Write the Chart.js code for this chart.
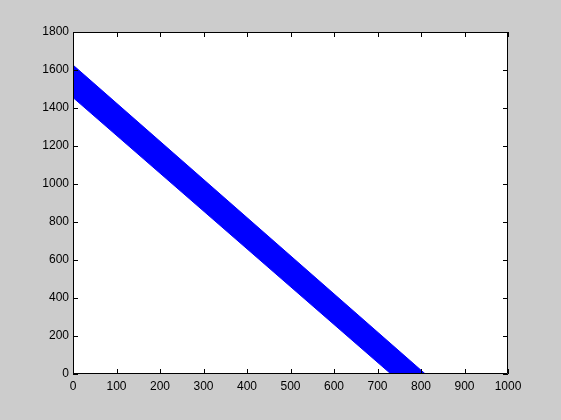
<!DOCTYPE html>
<html>
<head>
<meta charset="utf-8">
<script src="https://cdn.jsdelivr.net/npm/chart.js@4"></script>
<style>
  html, body { margin: 0; padding: 0; background: #cccccc; }
  #wrap { width: 561px; height: 420px; }
</style>
</head>
<body>
<div id="wrap"><canvas id="myChart" width="561" height="420"></canvas></div>
<script>
// edges of the blue band
const upperEdge = [
  { x: 0, y: 1626 },
  { x: 810, y: 0 },
];
const lowerEdge = [
  { x: 0, y: 1455 },
  { x: 731, y: 0 },
  { x: 810, y: 0 },
];

const xTicks = [0, 100, 200, 300, 400, 500, 600, 700, 800, 900, 1000];
const yTicks = [0, 200, 400, 600, 800, 1000, 1200, 1400, 1600, 1800];

// matlab style frame with ticks pointing inwards on all four sides
const boxTicks = {
  id: "boxTicks",
  afterDraw(chart) {
    const ctx = chart.ctx;
    const area = chart.chartArea;
    const xs = chart.scales.x;
    const ys = chart.scales.y;
    const len = 5;

    ctx.save();
    ctx.strokeStyle = "#000000";
    ctx.lineWidth = 1;
    ctx.beginPath();
    ctx.rect(area.left + 0.5, area.top + 0.5, area.right - area.left - 1, area.bottom - area.top - 1);

    xTicks.forEach(function (v) {
      var px = Math.round(xs.getPixelForValue(v)) + 0.5;
      ctx.moveTo(px, area.bottom);
      ctx.lineTo(px, area.bottom - len);
      ctx.moveTo(px, area.top);
      ctx.lineTo(px, area.top + len);
    });
    yTicks.forEach(function (v) {
      var py = Math.round(ys.getPixelForValue(v)) + 0.5;
      ctx.moveTo(area.left, py);
      ctx.lineTo(area.left + len, py);
      ctx.moveTo(area.right, py);
      ctx.lineTo(area.right - len, py);
    });
    ctx.stroke();
    ctx.restore();
  },
};

new Chart(document.getElementById("myChart"), {
  type: "line",
  data: {
    datasets: [
      {
        data: upperEdge,
        borderColor: "#0000ff",
        backgroundColor: "#0000ff",
        borderWidth: 1,
        pointRadius: 0,
        fill: "+1",
      },
      {
        data: lowerEdge,
        borderColor: "#0000ff",
        backgroundColor: "#0000ff",
        borderWidth: 1,
        pointRadius: 0,
        fill: false,
      },
    ],
  },
  options: {
    responsive: false,
    animation: false,
    layout: { padding: { top: 32, right: 53, left: 0, bottom: 0 } },
    plugins: {
      legend: { display: false },
      tooltip: { enabled: false },
    },
    scales: {
      x: {
        type: "linear",
        min: 0,
        max: 1000,
        afterBuildTicks: function (scale) {
          scale.ticks = xTicks.map((v) => ({ value: v }));
        },
        afterFit: function (scale) {
          scale.height = 46;
        },
        grid: { display: false, drawTicks: false },
        border: { display: false },
        ticks: {
          color: "#000000",
          padding: 5,
          maxRotation: 0,
          autoSkip: false,
          font: { family: "Liberation Sans", size: 12 },
          callback: (v) => String(v),
        },
      },
      y: {
        type: "linear",
        min: 0,
        max: 1800,
        afterBuildTicks: function (scale) {
          scale.ticks = yTicks.map((v) => ({ value: v }));
        },
        afterFit: function (scale) {
          scale.width = 73;
        },
        grid: { display: false, drawTicks: false },
        border: { display: false },
        ticks: {
          color: "#000000",
          padding: 4,
          autoSkip: false,
          font: { family: "Liberation Sans", size: 12 },
          callback: (v) => String(v),
        },
      },
    },
  },
  plugins: [
    {
      id: "whiteArea",
      beforeDraw(chart) {
        const a = chart.chartArea;
        chart.ctx.save();
        chart.ctx.fillStyle = "#ffffff";
        chart.ctx.fillRect(a.left, a.top, a.right - a.left, a.bottom - a.top);
        chart.ctx.restore();
      },
    },
    boxTicks,
  ],
});
</script>
</body>
</html>
